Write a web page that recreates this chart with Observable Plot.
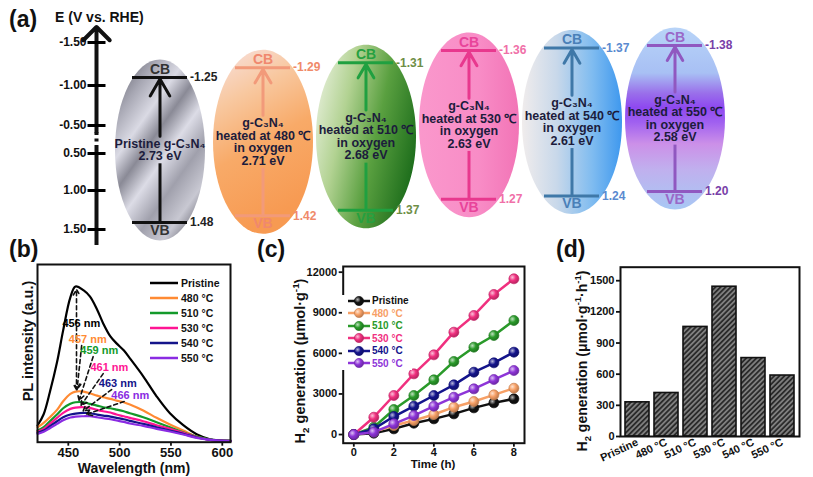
<!DOCTYPE html>
<html><head><meta charset="utf-8">
<script src="https://cdn.jsdelivr.net/npm/d3@7"></script>
<script src="https://cdn.jsdelivr.net/npm/@observablehq/plot@0.6"></script>
<style>
html,body{margin:0;padding:0;background:#fff}
#fig{position:relative;width:813px;height:477px;background:#fff;overflow:hidden;font-family:"Liberation Sans",Arial,Helvetica,sans-serif;font-weight:bold;color:#111}
.abs{position:absolute}
.lbl{position:absolute;white-space:nowrap;line-height:1}
.rot{position:absolute;white-space:nowrap;line-height:1;transform:translate(-50%,-50%) rotate(-90deg)}
.ctr{position:absolute;white-space:nowrap;line-height:1;transform:translate(-50%,-50%)}
sub,sup{font-size:0.68em;line-height:0}
svg g[aria-label*="axis"] line, svg g[aria-label*="axis tick"] path{stroke-width:1.8px}
</style></head>
<body>
<svg width="0" height="0" style="position:absolute">
<defs id="defs">
  <linearGradient id="ell0" x1="0.15" y1="0" x2="0.85" y2="1">
    <stop offset="0" stop-color="#6e6e7a"/><stop offset="0.15" stop-color="#a8a8b4"/>
    <stop offset="0.3" stop-color="#dadae4"/><stop offset="0.42" stop-color="#8a8a96"/>
    <stop offset="0.55" stop-color="#dcdce6"/><stop offset="0.7" stop-color="#a0a0ac"/>
    <stop offset="0.85" stop-color="#c8c8d2"/><stop offset="1" stop-color="#5c5c68"/>
  </linearGradient>
  <linearGradient id="ell1" x1="0" y1="0" x2="0.3" y2="1">
    <stop offset="0" stop-color="#f8e2e2"/><stop offset="0.3" stop-color="#f8c8a0"/>
    <stop offset="0.6" stop-color="#f8aa68"/><stop offset="1" stop-color="#f79a52"/>
  </linearGradient>
  <linearGradient id="ell2" x1="0" y1="0.2" x2="1" y2="0.6">
    <stop offset="0" stop-color="#e6efda"/><stop offset="0.3" stop-color="#b2d292"/>
    <stop offset="0.62" stop-color="#5aa040"/><stop offset="1" stop-color="#1e6e1c"/>
  </linearGradient>
  <linearGradient id="ell3" x1="0" y1="0" x2="1" y2="0">
    <stop offset="0" stop-color="#fa98cc"/><stop offset="0.6" stop-color="#f88cc6"/>
    <stop offset="1" stop-color="#f274b6"/>
  </linearGradient>
  <linearGradient id="ell4" x1="0" y1="0" x2="1" y2="0">
    <stop offset="0" stop-color="#f0ecec"/><stop offset="0.35" stop-color="#c8d8ea"/>
    <stop offset="0.7" stop-color="#80bcf0"/><stop offset="1" stop-color="#3e98ee"/>
  </linearGradient>
  <linearGradient id="ell5" x1="0" y1="0" x2="0" y2="1">
    <stop offset="0" stop-color="#b8d4f8"/><stop offset="0.25" stop-color="#a8c0f4"/>
    <stop offset="0.36" stop-color="#9a70ea"/><stop offset="0.44" stop-color="#8e48f0"/>
    <stop offset="0.52" stop-color="#a060f0"/><stop offset="0.64" stop-color="#cc90e8"/>
    <stop offset="0.78" stop-color="#c0b0ee"/><stop offset="1" stop-color="#a8c8f4"/>
  </linearGradient>
  <pattern id="hatch" width="3.6" height="3.6" patternUnits="userSpaceOnUse" patternTransform="rotate(45)">
    <rect width="3.6" height="3.6" fill="#2b2b2b"/>
    <line x1="0.9" y1="0" x2="0.9" y2="3.6" stroke="#b4b4b4" stroke-width="1.1"/>
  </pattern>
</defs>
</svg>
<div id="fig"></div>
<script>
// ---------------- data ----------------
const samples = ["Pristine", "480 °C", "510 °C", "530 °C", "540 °C", "550 °C"];
const temps = [null, 480, 510, 530, 540, 550];
const cbPotential = [-1.25, -1.29, -1.31, -1.36, -1.37, -1.38];
const vbPotential = [1.48, 1.42, 1.37, 1.27, 1.24, 1.20];
const bandGap = [2.73, 2.71, 2.68, 2.63, 2.61, 2.58];
const axisTicks = [-1.5, -1.0, -0.5, 0.5, 1.0, 1.5];
const axisTickLabels = ["-1.50", "-1.00", "-0.50", "0.50", "1.00", "1.50"];

const wavelength = [420, 426, 432, 439, 445, 452, 457, 465, 471, 478, 484, 491, 497, 504, 510, 523, 536, 549, 562, 575, 588, 608];
const plPristine = [16.7, 28, 50, 80, 112, 145, 156, 152, 146, 133, 119, 106, 99, 92, 84, 66, 46, 29, 17, 8, 3, 1.5];
const pl480 = [15, 19.4, 25, 32.4, 41, 48.4, 50.7, 50.7, 49, 46.7, 45, 43.4, 41.7, 40, 37.7, 31.7, 24.4, 17.7, 11.7, 5.7, 2.4, 0.7];
const pl510 = [11.7, 15, 21, 27.7, 34, 38.4, 40, 40, 38.4, 36.7, 35, 34, 32.7, 31, 29, 25, 20, 15, 10, 5.7, 2.7, 1];
const pl530 = [10.7, 13.4, 18.4, 24.4, 29.4, 33.4, 34.7, 35, 34.4, 32.4, 31, 29.7, 27.7, 26, 24.4, 21, 17, 13.4, 9.4, 5, 2.4, 1];
const pl540 = [9.4, 11.7, 16, 21, 25, 27.7, 28.7, 29.4, 29, 27.7, 26.7, 25.7, 24.4, 23, 21.4, 18.4, 15, 11.7, 8.4, 4.7, 2.4, 1];
const pl550 = [8.4, 10.4, 14, 18.4, 22, 24.7, 25.7, 26, 26, 25, 24, 23, 21.7, 20.4, 18.7, 16.4, 13.4, 10.7, 7.7, 4.4, 2.4, 1];
const peakNm = [456, 457, 459, 461, 463, 466];
const peakLabelNm = [462.7, 469, 480.2, 490, 498.2, 510.4];
const peakLabelH = [118.7, 102.7, 91.7, 74.7, 58.7, 46.7];

const timeH = [0, 1, 2, 3, 4, 5, 6, 7, 8];
const h2Pristine = [0, 100, 419, 838, 1159, 1528, 1972, 2342, 2638];
const h2_480 = [0, 200, 665, 1035, 1479, 2021, 2440, 2933, 3426];
const h2_510 = [0, 542, 1849, 2884, 4043, 5398, 6458, 7321, 8430];
const h2_530 = [0, 1282, 2884, 4486, 5891, 7568, 8800, 10353, 11511];
const h2_540 = [0, 419, 1331, 2095, 2884, 3673, 4610, 5300, 6089];
const h2_550 = [0, 173, 789, 1405, 2095, 2761, 3377, 4067, 4733];
const h2Ticks = [0, 3000, 6000, 9000, 12000];

const h2Rate = [329, 419, 1055, 1442, 755, 587];
const rateTicks = [0, 300, 600, 900, 1200, 1500];

// ---------------- styles ----------------
const levelColors = ["#111111", "#f29a7a", "#20a040", "#e8388e", "#3f78a8", "#9058c0"];
const cbvbTextColors = ["#333333", "#f0886e", "#26a040", "#e8449a", "#4a80b8", "#9a68c8"];
const valueColors = ["#222222", "#f08a6a", "#6e8e46", "#f070a8", "#5a8ad0", "#7840a8"];
const plColors = ["#000000", "#ff8a33", "#139a2a", "#ff1493", "#14148a", "#8a2be2"];
const h2Colors = ["#111111", "#f7a066", "#2a9a2a", "#f0307f", "#14148c", "#8e35d8"];
const FONT = '"Liberation Sans", Arial, Helvetica, sans-serif';
const baseStyle = {background: "transparent", fontFamily: FONT, fontWeight: "bold", color: "#111", overflow: "visible"};

const fig = document.getElementById("fig");
function place(node, left, top) {
  const w = document.createElement("div");
  w.className = "abs"; w.style.left = left + "px"; w.style.top = top + "px";
  w.appendChild(node); fig.appendChild(w); return w;
}
function html(str, cls, left, top, size, color) {
  const d = document.createElement("div");
  d.className = cls; d.innerHTML = str;
  d.style.left = left + "px"; d.style.top = top + "px"; d.style.fontSize = size + "px";
  if (color) d.style.color = color;
  fig.appendChild(d); return d;
}

// sphere gradients for panel (c) markers
const ns = "http://www.w3.org/2000/svg";
const defs = document.getElementById("defs");
h2Colors.forEach((c, i) => {
  const g = document.createElementNS(ns, "radialGradient");
  g.setAttribute("id", "sph" + i); g.setAttribute("cx", "0.35"); g.setAttribute("cy", "0.35"); g.setAttribute("r", "0.75");
  [[0, d3.interpolateRgb(c, "#ffffff")(0.7)], [0.45, c], [1, d3.color(c).darker(1).formatHex()]].forEach(([o, col]) => {
    const s = document.createElementNS(ns, "stop");
    s.setAttribute("offset", o); s.setAttribute("stop-color", col); g.appendChild(s);
  });
  defs.appendChild(g);
});

// ---------------- panel (a): band diagrams (schematic piecewise scale) ----------------
const levDomain = [d3.min(cbPotential), d3.max(cbPotential), d3.min(vbPotential), d3.max(vbPotential)];
const levRange = [45, 77, 191, 222];
const yPx = d3.scaleLinear(levDomain, levRange);
const bands = samples.map((s, i) => {
  const text = i === 0
    ? `Pristine g-C₃N₄\n${bandGap[i].toFixed(2)} eV`
    : `g-C₃N₄\nheated at ${temps[i]} ℃\nin oxygen\n${bandGap[i].toFixed(2)} eV`;
  const cPx = yPx(cbPotential[i]), vPx = yPx(vbPotential[i]), mid = (cPx + vPx) / 2;
  const half = text.split("\n").length * 6.4 + 1;
  return {sample: s, i, cb: cbPotential[i], vb: vbPotential[i], text,
    mid: yPx.invert(mid), ry: (vPx - cPx) / 2 + 18,
    gapTop: yPx.invert(mid - half), gapBot: yPx.invert(mid + half)};
});
function ellipseSymbol(rx, ry) {
  const k = 0.5522847498;
  return {draw(c) {
    c.moveTo(rx, 0);
    c.bezierCurveTo(rx, k * ry, k * rx, ry, 0, ry);
    c.bezierCurveTo(-k * rx, ry, -rx, k * ry, -rx, 0);
    c.bezierCurveTo(-rx, -k * ry, -k * rx, -ry, 0, -ry);
    c.bezierCurveTo(k * rx, -ry, rx, -k * ry, rx, 0);
    c.closePath();
  }};
}
const bandPlot = Plot.plot({
  width: 813, height: 250, marginLeft: 0, marginRight: 0, marginTop: 0, marginBottom: 0,
  style: {...baseStyle, fontSize: "12px"},
  x: {type: "band", domain: samples, range: [106.2, 727.8], paddingInner: 0.47, paddingOuter: 0.235, align: 0.5, axis: null},
  y: {type: "linear", domain: levDomain, range: levRange, axis: null},
  color: {type: "identity"},
  marks: [
    ...bands.map(b => Plot.dot([b], {x: "sample", y: "mid", symbol: ellipseSymbol(b.i === 0 ? 45 : 50, b.ry), fill: `url(#ell${b.i})`, stroke: "none"})),
    Plot.tickY(bands, {x: "sample", y: "cb", stroke: d => levelColors[d.i], strokeWidth: 3}),
    Plot.tickY(bands, {x: "sample", y: "vb", stroke: d => levelColors[d.i], strokeWidth: 3}),
    Plot.arrow(bands, {x1: "sample", x2: "sample", y1: "gapTop", y2: "cb", stroke: d => levelColors[d.i], strokeWidth: 3, headLength: 10, insetEnd: 1.5}),
    Plot.ruleX(bands, {x: "sample", y1: "vb", y2: "gapBot", stroke: d => levelColors[d.i], strokeWidth: 3}),
    Plot.text(bands, {x: "sample", y: "cb", text: () => "CB", dy: -8, fill: d => cbvbTextColors[d.i], fontSize: 14}),
    Plot.text(bands, {x: "sample", y: "vb", text: () => "VB", dy: 8, fill: d => cbvbTextColors[d.i], fontSize: 14}),
    Plot.text(bands, {x: "sample", y: "cb", text: d => d.cb.toFixed(2), textAnchor: "start", dx: 30, fill: d => valueColors[d.i], fontSize: 12}),
    Plot.text(bands, {x: "sample", y: "vb", text: d => d.vb.toFixed(2), textAnchor: "start", dx: 30, fill: d => valueColors[d.i], fontSize: 12}),
    Plot.text(bands, {x: "sample", y: "mid", text: "text", fill: "#1c1c3c", fontSize: 12.5, lineHeight: 1.0})
  ]
});
place(bandPlot, 0, 0);

// ---------------- panel (a): energy axis (broken, piecewise scale), drawn on top ----------------
const axisBreak = [-0.26, 0.32];
const axisExtent = [1.705, -1.68];
const tickBar = {draw(c) { c.moveTo(-9, -1.5); c.lineTo(9, -1.5); c.lineTo(9, 1.5); c.lineTo(-9, 1.5); c.closePath(); }};
const axisPlot = Plot.plot({
  width: 160, height: 250, marginLeft: 87, marginRight: 55, marginTop: 0, marginBottom: 0,
  style: {...baseStyle, fontSize: "12px"},
  x: {domain: [-1, 1], axis: null},
  y: {type: "linear", domain: axisTicks, range: [42, 85, 125, 153, 190, 229], axis: null},
  marks: [
    Plot.ruleX([0], {y1: axisExtent[0], y2: axisBreak[1], strokeWidth: 4}),
    Plot.ruleX([0], {y1: axisBreak[1], y2: axisBreak[0], strokeWidth: 4, strokeDasharray: "3,3.5"}),
    Plot.arrow([0], {x1: d => d, x2: d => d, y1: axisBreak[0], y2: axisExtent[1], strokeWidth: 4, headLength: 7, headAngle: 90}),
    Plot.dot(axisTicks, {x: () => 0, y: d => d, symbol: tickBar, fill: "#000", stroke: "none"}),
    Plot.text(axisTicks, {y: d => d, text: (d, i) => axisTickLabels[i], frameAnchor: "left", textAnchor: "end", dx: -1})
  ]
});
place(axisPlot, 0, 0);

// ---------------- panel (b): PL spectra ----------------
const plSeries = [plPristine, pl480, pl510, pl530, pl540, pl550];
const specRows = samples.flatMap((s, i) => wavelength.map((w, j) => ({sample: s, nm: w, v: plSeries[i][j]})));
const peaks = samples.map((s, i) => ({sample: s, i, nm: peakNm[i], h: d3.max(plSeries[i]), label: peakNm[i] + " nm", lx: peakLabelNm[i], ly: peakLabelH[i]}));
const dash = {stroke: "#111", strokeWidth: 1.6, strokeDasharray: "4,3", headLength: 6};
const plotB = Plot.plot({
  width: 240, height: 227, marginLeft: 37, marginRight: 10, marginTop: 14, marginBottom: 35.3,
  style: {...baseStyle, fontSize: "13px"},
  x: {domain: [420, 608], ticks: [450, 500, 550, 600], tickSize: 4, tickPadding: 2, label: null},
  y: {domain: [0, 178], axis: null},
  color: {domain: samples, range: plColors},
  marks: [
    Plot.line(specRows, {x: "nm", y: "v", z: "sample", stroke: "sample", strokeWidth: 2.2, curve: "catmull-rom"}),
    Plot.arrow([peaks[0]], {x1: d => d.nm + 2, x2: d => d.nm + 2, y1: d => d.ly - 14, y2: d => d.h - 3, ...dash}),
    Plot.arrow([peaks[0]], {x1: d => d.nm + 2, x2: d => d.nm + 2, y1: d => d.ly - 14, y2: () => peaks[1].h + 2, ...dash}),
    Plot.arrow(peaks.slice(1), {x1: d => d.lx - 6, y1: d => d.ly - 6, x2: d => d.nm + 1.5, y2: d => d.h + 2, ...dash}),
    Plot.text(peaks, {x: "lx", y: "ly", text: "label", fill: "sample", fontSize: 11}),
    Plot.frame({strokeWidth: 2})
  ]
});
place(plotB, 0, 250);

// legend (b)
const legB = document.createElement("div");
legB.style.cssText = "position:absolute;left:149px;top:275.5px;font-size:10.5px;";
legB.innerHTML = samples.map((s, i) => `<div style="height:15px;display:flex;align-items:center"><svg width="30" height="4"><line x1="1" x2="29" y1="2" y2="2" stroke="${plColors[i]}" stroke-width="2.5"/></svg><span style="margin-left:2px">${s}</span></div>`).join("");
fig.appendChild(legB);

// ---------------- panel (c): H2 evolution ----------------
const h2Series = [h2Pristine, h2_480, h2_510, h2_530, h2_540, h2_550];
const h2Rows = samples.flatMap((s, i) => timeH.map((t, j) => ({sample: s, i, t, v: h2Series[i][j]})));
const plotC = Plot.plot({
  width: 270, height: 227, marginLeft: 82.7, marginRight: 6, marginTop: 16, marginBottom: 34.3,
  style: {...baseStyle, fontSize: "11px"},
  x: {domain: [-0.53, 8.53], ticks: [0, 2, 4, 6, 8], tickSize: 4, tickPadding: 1, label: null},
  y: {domain: [-640, 12420], ticks: h2Ticks, tickFormat: d3.format("d"), tickSize: 4, tickPadding: 2, label: null},
  color: {domain: samples, range: h2Colors},
  marks: [
    ...samples.flatMap((s, i) => [
      Plot.line(h2Rows.filter(r => r.i === i), {x: "t", y: "v", stroke: "sample", strokeWidth: 2.5}),
      Plot.dot(h2Rows.filter(r => r.i === i), {x: "t", y: "v", r: 5, fill: `url(#sph${i})`, stroke: d3.color(h2Colors[i]).darker(0.6).formatHex(), strokeWidth: 0.7})
    ]),
    Plot.frame({strokeWidth: 2})
  ]
});
place(plotC, 260, 250);

// legend (c)
const legC = document.createElement("div");
legC.style.cssText = "position:absolute;left:342px;top:294.7px;font-size:10px;background:#fff;padding-left:5px;padding-right:3px;";
legC.innerHTML = samples.map((s, i) => `<div style="height:12.5px;display:flex;align-items:center"><svg width="24" height="12"><line x1="1" x2="23" y1="6" y2="6" stroke="${h2Colors[i]}" stroke-width="2.5"/><circle cx="12" cy="6" r="4.6" fill="url(#sph${i})" stroke="${d3.color(h2Colors[i]).darker(0.6).formatHex()}" stroke-width="0.7"/></svg><span style="margin-left:1px;color:${h2Colors[i]}">${s}</span></div>`).join("");
fig.appendChild(legC);

// ---------------- panel (d): H2 rate bars ----------------
const rateRows = samples.map((s, i) => ({sample: s, rate: h2Rate[i]}));
const plotD = Plot.plot({
  width: 273, height: 227, marginLeft: 80, marginRight: 14, marginTop: 16.7, marginBottom: 41,
  style: {...baseStyle, fontSize: "11px"},
  x: {domain: samples, paddingInner: 0.16, paddingOuter: 0.1, tickRotate: -25, tickSize: 0, tickPadding: 5, label: null},
  y: {domain: [0, 1630], ticks: rateTicks, tickFormat: d3.format("d"), tickSize: 4, tickPadding: 2, label: null},
  marks: [
    Plot.barY(rateRows, {x: "sample", y: "rate", fill: "url(#hatch)", stroke: "#111", strokeWidth: 1.6}),
    Plot.frame({strokeWidth: 2})
  ]
});
place(plotD, 540, 250);

// ---------------- titles ----------------
html("(a)", "lbl", 9, 8, 23);
html("E (V vs. RHE)", "lbl", 55, 10, 14);
html("(b)", "lbl", 9, 238, 23);
html("(c)", "lbl", 257, 238, 23);
html("(d)", "lbl", 556, 238, 23);
html("PL intensity (a.u.)", "rot", 28, 341, 14.5);
html("Wavelength (nm)", "ctr", 134, 468, 14);
html("H<sub>2</sub> generation (μmol·g<sup>-1</sup>)", "rot", 300, 361, 14.5);
html("Time (h)", "ctr", 433, 465, 11.5);
html("H<sub>2</sub> generation (μmol·g<sup>-1</sup>·h<sup>-1</sup>)", "rot", 582, 361, 14);
</script>
</body></html>
